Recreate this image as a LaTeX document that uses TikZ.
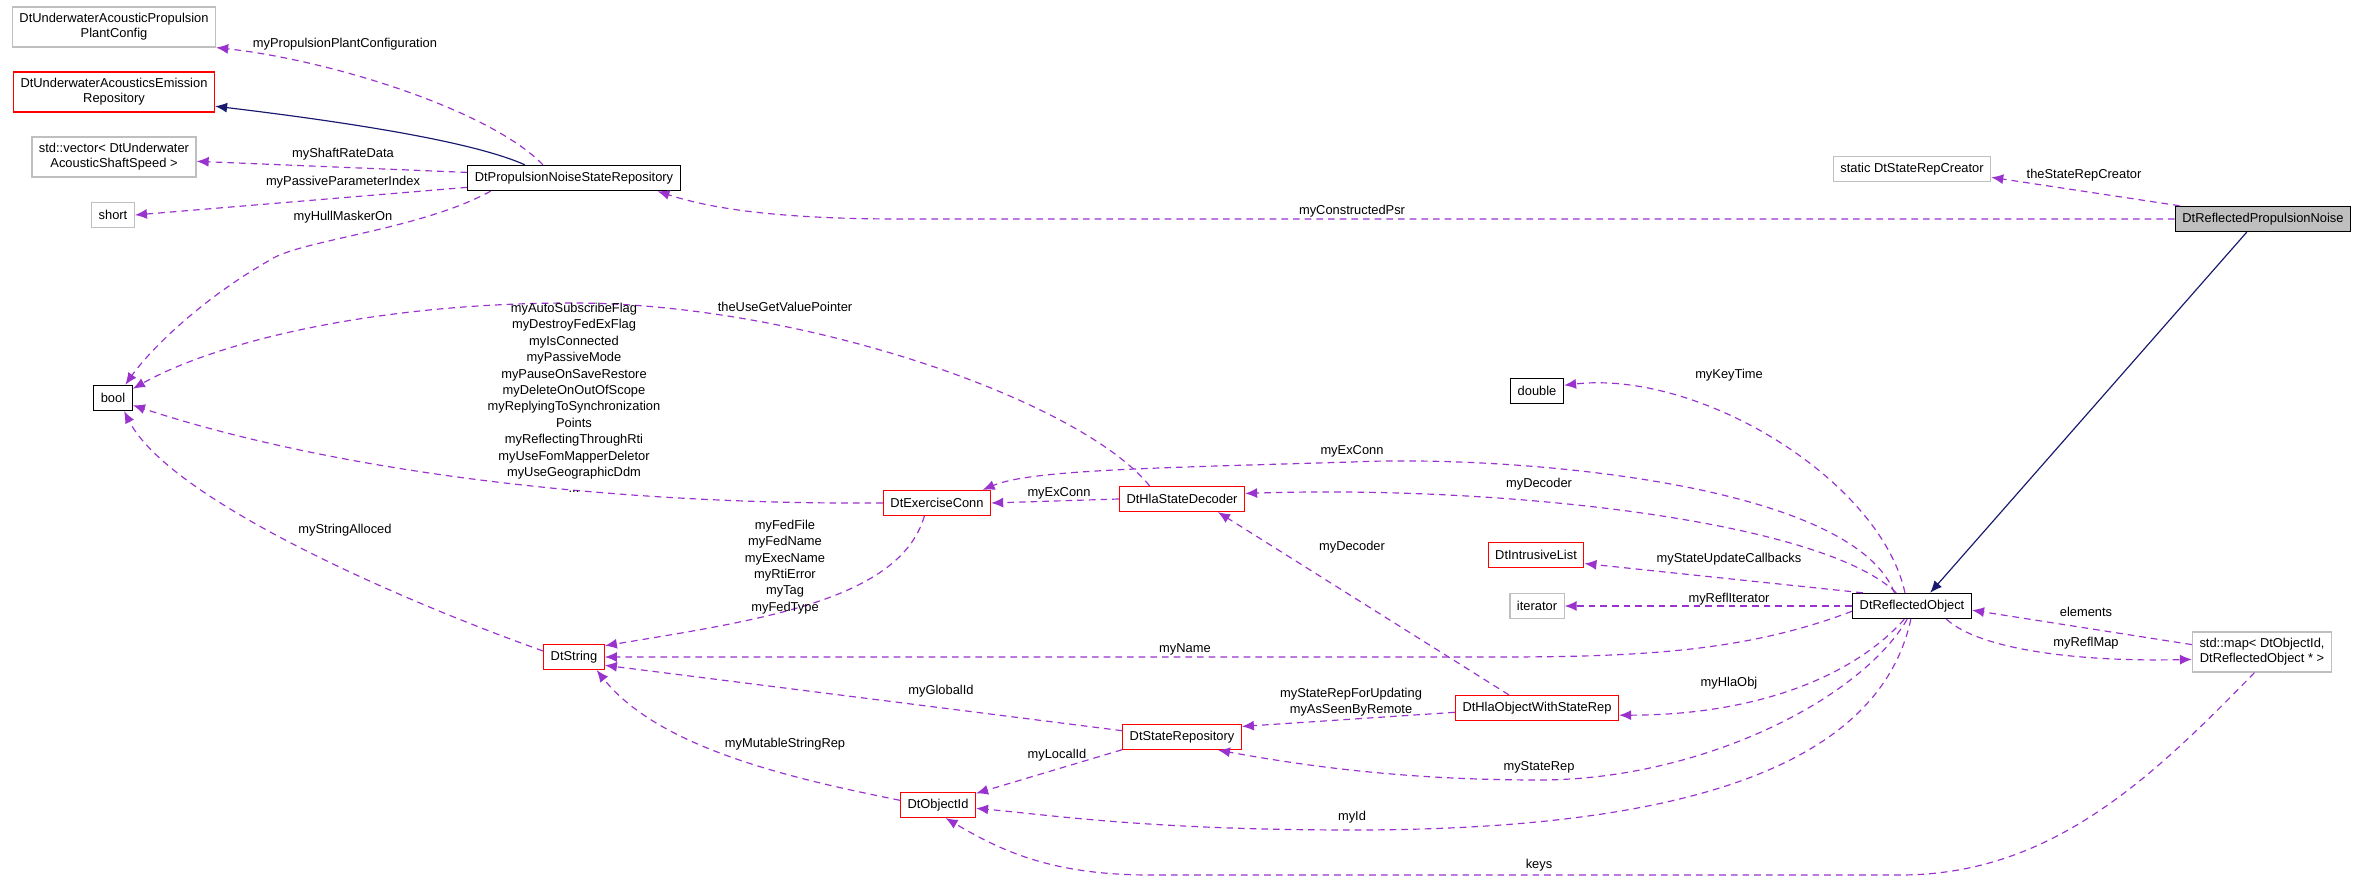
\documentclass[tikz,border=0pt]{standalone}
\usepackage{fontspec}
\setmainfont{Liberation Sans}
\usepackage{tikz}
\usetikzlibrary{arrows.meta}
\definecolor{depcol}{HTML}{9A32CD}
\definecolor{inhcol}{HTML}{191970}

\begin{document}
\begin{tikzpicture}[x=0.03cm,y=-0.03cm]
    \tikzstyle{cls}=[draw=black,line width=1.2pt,shape=rectangle,minimum height=0.75cm,inner xsep=6pt,font=\fontsize{11}{13}\selectfont,align=center]
    \tikzstyle{redcls}=[cls,draw=red,line width=1pt]
    \tikzstyle{graycls}=[cls,draw=black!25,line width=1pt]
    \tikzstyle{focus}=[cls,fill=black!25]
    \tikzstyle{dep}=[draw=depcol,line width=1pt,dash pattern=on 0.2cm off 0.15cm,-{Latex[length=0.36cm,width=0.3cm]}]
    \tikzstyle{inh}=[draw=inhcol,line width=1pt,-{Latex[length=0.36cm,width=0.3cm]}]
    \tikzstyle{lbl}=[font=\fontsize{11}{14}\selectfont,align=center,inner sep=1pt]

    \useasboundingbox (0,0) rectangle (2360,879);

    \node[graycls,minimum height=1.2cm] (plantcfg) at (114,27) {DtUnderwaterAcousticPropulsion\\PlantConfig};
    \node[redcls,minimum height=1.2cm] (emission) at (114,92) {DtUnderwaterAcousticsEmission\\Repository};
    \node[graycls,minimum height=1.2cm] (shaftvec) at (114,157) {std::vector< DtUnderwater\\AcousticShaftSpeed >};
    \node[graycls] (shorttype) at (113,215) {short};
    \node[cls] (booltype) at (113,398) {bool};
    \node[cls] (pnsr) at (574,178) {DtPropulsionNoiseStateRepository};
    \node[graycls] (creator) at (1912,169) {static DtStateRepCreator};
    \node[focus] (rpn) at (2263,219) {DtReflectedPropulsionNoise};
    \node[cls] (doubletype) at (1537,391) {double};
    \node[redcls] (exconn) at (937,503) {DtExerciseConn};
    \node[redcls] (decoder) at (1182,499) {DtHlaStateDecoder};
    \node[redcls] (intrlist) at (1536,555) {DtIntrusiveList};
    \node[graycls] (iter) at (1537,606) {iterator};
    \node[cls] (reflobj) at (1912,606) {DtReflectedObject};
    \node[graycls,minimum height=1.2cm] (reflmap) at (2262,652) {std::map< DtObjectId,\\DtReflectedObject * >};
    \node[redcls] (dtstring) at (574,657) {DtString};
    \node[redcls] (hlaobj) at (1537,708) {DtHlaObjectWithStateRep};
    \node[redcls] (staterepo) at (1182,737) {DtStateRepository};
    \node[redcls] (objid) at (938,805) {DtObjectId};

    % inheritance
    \path[inh] (pnsr.165) .. controls (470,140) and (330,120) .. (emission.-8);
    \path[inh] (rpn.-141) -- (reflobj.36);

    % members of DtPropulsionNoiseStateRepository
    \path[dep] (pnsr.157) .. controls (490,110) and (330,60) .. (plantcfg.south east);
    \path[dep] (pnsr.177) -- (shaftvec.-3);
    \path[dep] (pnsr.185) -- (shorttype.east);
    \path[dep] (pnsr.189) .. controls (420,230) and (300,240) .. (270,260) .. controls (200,300) and (150,350) .. (booltype.47);
    \node[lbl] at (345,44) {myPropulsionPlantConfiguration};
    \node[lbl] at (343,154) {myShaftRateData};
    \node[lbl] at (343,182) {myPassiveParameterIndex};
    \node[lbl] at (343,217) {myHullMaskerOn};

    % members of DtReflectedPropulsionNoise
    \path[dep] (rpn.west) -- (900,219) .. controls (760,219) and (700,205) .. (pnsr.-9);
    \path[dep] (rpn.171) -- (creator.-6);
    \node[lbl] at (1352,211) {myConstructedPsr};
    \node[lbl] at (2084,175) {theStateRepCreator};

    % links to bool
    \path[dep] (decoder.158) .. controls (1080,400) and (800,303) .. (572,303) .. controls (380,303) and (220,340) .. (booltype.25);
    \path[dep] (exconn.west) .. controls (600,505) and (330,470) .. (booltype.-20);
    \path[dep] (dtstring.169) .. controls (400,600) and (170,500) .. (booltype.-50);
    \node[lbl] at (785,307) {theUseGetValuePointer};
    \node[lbl] at (574,398) {myAutoSubscribeFlag\\myDestroyFedExFlag\\myIsConnected\\myPassiveMode\\myPauseOnSaveRestore\\myDeleteOnOutOfScope\\myReplyingToSynchronization\\Points\\myReflectingThroughRti\\myUseFomMapperDeletor\\myUseGeographicDdm\\...};
    \node[lbl] at (345,530) {myStringAlloced};

    % DtExerciseConn and DtHlaStateDecoder
    \path[dep] (exconn.-134) .. controls (900,600) and (760,620) .. (dtstring.20);
    \path[dep] (decoder.west) -- (exconn.east);
    \path[dep] (hlaobj.155) -- (decoder.-20);
    \node[lbl] at (785,567) {myFedFile\\myFedName\\myExecName\\myRtiError\\myTag\\myFedType};
    \node[lbl] at (1059,493) {myExConn};
    \node[lbl] at (1352,547) {myDecoder};

    % members of DtReflectedObject
    \path[dep] (reflobj.143) .. controls (1850,480) and (1500,455) .. (1352,462) .. controls (1150,468) and (1030,470) .. (exconn.16);
    \path[dep] (reflobj.140) .. controls (1820,520) and (1500,485) .. (decoder.5);
    \path[dep] (reflobj.118) .. controls (1880,480) and (1700,370) .. (doubletype.12);
    \path[dep] (reflobj.165) -- (intrlist.-10);
    \path[dep] (reflobj.west) -- (iter.east);
    \path[dep] (reflobj.185) .. controls (1750,650) and (1650,657) .. (1500,657) -- (dtstring.east);
    \path[dep] (reflobj.-21) .. controls (1980,650) and (2080,662) .. (reflmap.186);
    \path[dep] (reflobj.-120) .. controls (1850,680) and (1750,715) .. (hlaobj.-5);
    \path[dep] (reflobj.-110) .. controls (1860,700) and (1700,780) .. (1539,780) .. controls (1400,780) and (1300,765) .. (staterepo.-20);
    \path[dep] (reflobj.-95) .. controls (1880,760) and (1700,830) .. (1352,830) .. controls (1150,830) and (1050,815) .. (objid.-5);
    \path[dep] (reflmap.174) -- (reflobj.-4);
    \node[lbl] at (1539,484) {myDecoder};
    \node[lbl] at (1352,451) {myExConn};
    \node[lbl] at (1729,375) {myKeyTime};
    \node[lbl] at (1729,559) {myStateUpdateCallbacks};
    \node[lbl] at (1729,599) {myReflIterator};
    \node[lbl] at (2086,612) {elements};
    \node[lbl] at (2086,643) {myReflMap};
    \node[lbl] at (1185,649) {myName};
    \node[lbl] at (1729,683) {myHlaObj};
    \node[lbl] at (1539,767) {myStateRep};
    \node[lbl] at (1352,817) {myId};

    % state repository and object id
    \path[dep] (staterepo.174) -- (dtstring.-15);
    \path[dep] (hlaobj.183) -- (staterepo.10);
    \path[dep] (staterepo.192) -- (objid.17);
    \path[dep] (objid.173) .. controls (800,780) and (660,750) .. (dtstring.-30);
    \path[dep] (reflmap.-110) .. controls (2150,780) and (2050,875) .. (1900,875) -- (1150,875) .. controls (1050,875) and (1000,850) .. (objid.-60);
    \node[lbl] at (941,691) {myGlobalId};
    \node[lbl] at (1351,702) {myStateRepForUpdating\\myAsSeenByRemote};
    \node[lbl] at (1057,755) {myLocalId};
    \node[lbl] at (785,744) {myMutableStringRep};
    \node[lbl] at (1539,865) {keys};
\end{tikzpicture}
\end{document}
